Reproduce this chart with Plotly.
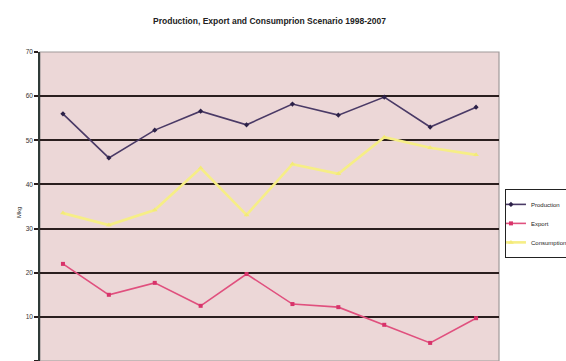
import plotly.graph_objects as go

years = ["1998", "1999", "2000", "2001", "2002", "2003", "2004", "2005", "2006", "2007"]
production = [56.0, 46.0, 52.3, 56.6, 53.5, 58.2, 55.7, 59.8, 53.0, 57.5]
export = [22.0, 15.0, 17.7, 12.5, 19.7, 12.9, 12.2, 8.2, 4.1, 9.7]
consumption = [33.5, 30.8, 34.2, 43.7, 33.1, 44.6, 42.4, 50.7, 48.3, 46.7]
y_ticks = [0, 10, 20, 30, 40, 50, 60, 70]

fig = go.Figure()
fig.add_trace(go.Scatter(
    x=years, y=production, name="Production", mode="lines+markers",
    line=dict(color="#4a3a66", width=1.6),
    marker=dict(symbol="diamond", size=4, color="#2c2148"),
))
fig.add_trace(go.Scatter(
    x=years, y=export, name="Export", mode="lines+markers",
    line=dict(color="#e0507e", width=1.6),
    marker=dict(symbol="square", size=4, color="#d8336a"),
))
fig.add_trace(go.Scatter(
    x=years, y=consumption, name="Consumption", mode="lines+markers",
    line=dict(color="#f6ee86", width=2.6),
    marker=dict(symbol="triangle-up", size=5, color="#f3ea78"),
))

# grey frame around the plotting area
fig.add_shape(type="rect", xref="paper", yref="paper", x0=0, x1=1, y0=0, y1=1,
              line=dict(color="#a09a9a", width=1.2), layer="below")

fig.add_annotation(text="Mkg", xref="paper", yref="paper", x=-0.058, y=0.48,
                   textangle=-90, showarrow=False,
                   font=dict(family="Liberation Sans", size=6, color="#333"))

fig.update_layout(
    width=566, height=361,
    margin=dict(l=40, r=67, t=52, b=0, autoexpand=False),
    paper_bgcolor="white",
    plot_bgcolor="#ecd7d7",
    title=dict(text="<b>Production, Export and Consumprion Scenario 1998-2007</b>",
               x=0.5, xref="paper", y=1 - 21 / 361, yanchor="middle",
               font=dict(family="Liberation Sans", size=8.5, color="#222")),
    font=dict(family="Liberation Sans", size=6, color="#333"),
    showlegend=True,
    legend=dict(x=1.013, y=0.557, xanchor="left", yanchor="top",
                bgcolor="white", bordercolor="#222", borderwidth=1,
                font=dict(size=6, color="#222"), tracegroupgap=0,
                itemwidth=30, indentation=-15),
    xaxis=dict(showgrid=False, showticklabels=False, showline=False,
               zeroline=False, range=[-0.5, 9.5]),
    yaxis=dict(range=[0, 70], tickvals=y_ticks, showgrid=True,
               gridcolor="#2a1e1e", gridwidth=1.8, zeroline=False,
               showline=True, linecolor="#2f3a38", linewidth=1.6,
               ticks="outside", ticklen=4, tickcolor="#2a1e1e", tickwidth=1.5,
               tickfont=dict(size=6.5, color="#333")),
)

fig.write_html("out.html")
